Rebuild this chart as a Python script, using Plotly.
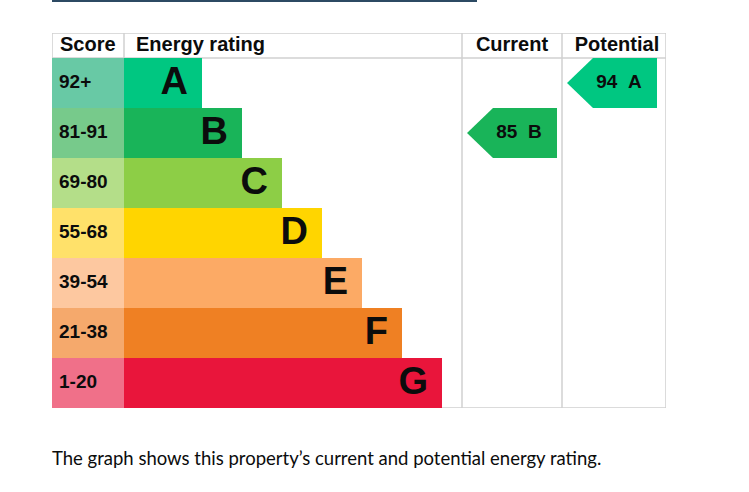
import plotly.graph_objects as go

# ---- data ----
bands = ["A", "B", "C", "D", "E", "F", "G"]
score_ranges = ["92+", "81-91", "69-80", "55-68", "39-54", "21-38", "1-20"]
band_min = [92, 81, 69, 55, 39, 21, 1]
band_rank = [1, 2, 3, 4, 5, 6, 7]
current_score = 85
potential_score = 94
headers = ["Score", "Energy rating", "Current", "Potential"]
footer_text = "The graph shows this property\u2019s current and potential energy rating."

# ---- styles ----
bar_colors = ["#00c781", "#19b459", "#8dce46", "#ffd500", "#fcaa65", "#ef8023", "#e9153b"]
score_colors = ["#68c9a5", "#77ca8b", "#b4de89", "#ffe16a", "#fdc8a0", "#f5a96c", "#f07089"]
grid_color = "#d0d0d0"
ink = "#0b0c0c"
arial = "Liberation Sans, Arial, sans-serif"

# layout geometry (x axis = pixels inside table, y axis = table rows)
W, H = 749, 492
ML, MR, MT, MB = 52, 83, 33, 84
PW, PH = W - ML - MR, H - MT - MB
score_w = 72
bar_step = 40
bar_base_len = 38
cur_left, pot_left, table_right = 410, 510, 614
arrow_in, arrow_out, tip = 5, 95, 26


def band_index(score):
    for i, m in enumerate(band_min):
        if score >= m:
            return i
    return len(band_min) - 1


def bold(t):
    return f"<b>{t}</b>"


rows = list(range(len(bands)))
row_mid = [r + 0.5 for r in rows]
bar_len = [bar_base_len + bar_step * k for k in band_rank]

fig = go.Figure()

# score cells
fig.add_trace(go.Bar(
    orientation="h", y=row_mid, x=[score_w] * len(bands), base=0, width=1,
    marker=dict(color=score_colors, line=dict(width=0)), hoverinfo="skip"))
# rating bars
fig.add_trace(go.Bar(
    orientation="h", y=row_mid, x=bar_len, base=score_w, width=1,
    marker=dict(color=bar_colors, line=dict(width=0)), hoverinfo="skip"))

# score labels
fig.add_trace(go.Scatter(
    x=[7] * len(bands), y=row_mid, text=[bold(s) for s in score_ranges], mode="text",
    textposition="middle right",
    textfont=dict(family=arial, size=19, color=ink), hoverinfo="skip"))
# band letters
fig.add_trace(go.Scatter(
    x=[score_w + L - 14 for L in bar_len], y=[m + 0.02 for m in row_mid],
    text=[bold(b) for b in bands],
    mode="text", textposition="middle left",
    textfont=dict(family=arial, size=38, color=ink), hoverinfo="skip"))

# arrows
for col_left, score in [(cur_left, current_score), (pot_left, potential_score)]:
    i = band_index(score)
    x0, x1 = col_left + arrow_in, col_left + arrow_out
    top, bot = i, i + 1
    fig.add_trace(go.Scatter(
        x=[x0, x0 + tip, x1, x1, x0 + tip, x0],
        y=[i + 0.5, top, top, bot, bot, i + 0.5],
        fill="toself", fillcolor=bar_colors[i], mode="lines",
        line=dict(width=0, color=bar_colors[i]), hoverinfo="skip"))
    fig.add_trace(go.Scatter(
        x=[x0 + 52], y=[i + 0.5], text=[bold(f"{score}\u00a0\u00a0{bands[i]}")], mode="text",
        textposition="middle center",
        textfont=dict(family=arial, size=19, color=ink), hoverinfo="skip"))

# headers
header_x = [8, score_w + 12, (cur_left + pot_left) / 2, (pot_left + table_right) / 2 + 3]
header_pos = ["middle right", "middle right", "middle center", "middle center"]
fig.add_trace(go.Scatter(
    x=header_x, y=[-0.24] * 4, text=[bold(h) for h in headers], mode="text",
    textposition=header_pos,
    textfont=dict(family=arial, size=20, color=ink), hoverinfo="skip"))

shapes = []
line = dict(color=grid_color, width=1.5)
shapes.append(dict(type="rect", x0=0, x1=table_right, y0=-0.5, y1=7, line=line, layer="below"))
shapes.append(dict(type="line", x0=0, x1=table_right, y0=0, y1=0, line=line, layer="below"))
shapes.append(dict(type="line", x0=score_w, x1=score_w, y0=-0.5, y1=0, line=line, layer="below"))
for xv in [cur_left, pot_left]:
    shapes.append(dict(type="line", x0=xv, x1=xv, y0=-0.5, y1=7, line=line, layer="below"))
# top rule line above the chart
rule_y = (H - MB - 1) / PH
shapes.append(dict(type="line", xref="paper", yref="paper", x0=0, x1=(477 - ML) / PW,
                   y0=rule_y, y1=rule_y, line=dict(color="#2c4a63", width=2)))

fig.update_layout(
    width=W, height=H, margin=dict(l=ML, r=MR, t=MT, b=MB),
    paper_bgcolor="white", plot_bgcolor="white",
    showlegend=False, barmode="overlay", bargap=0,
    shapes=shapes,
    xaxis=dict(range=[0, table_right], visible=False, fixedrange=True),
    yaxis=dict(range=[7, -0.5], visible=False, fixedrange=True),
    annotations=[dict(
        xref="paper", yref="paper", x=-0.004, y=(H - MB - 458) / PH,
        xanchor="left", yanchor="middle", showarrow=False, text=footer_text,
        font=dict(family="Lato, sans-serif", size=18.5, color=ink))],
)

fig.write_html("out.html", config={"displayModeBar": False},
               post_script="document.body.style.margin='0';")
